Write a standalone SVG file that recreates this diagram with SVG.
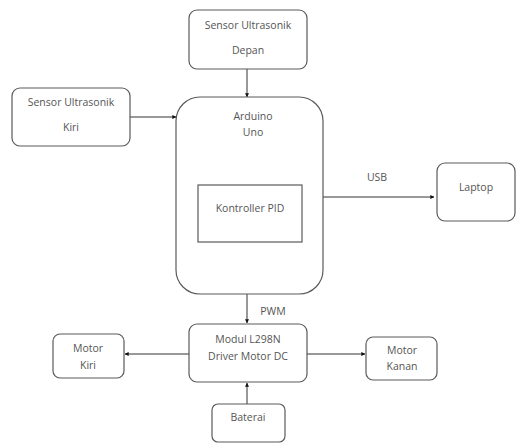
<svg xmlns="http://www.w3.org/2000/svg" width="516" height="443" viewBox="0 0 516 443">
<defs>
<style>
.box{fill:#fff;stroke:#5a5a5a;stroke-width:1.2}
.t{font-family:"Open Sans","Liberation Sans",sans-serif;font-size:10.5px;fill:#555;text-anchor:middle;dominant-baseline:middle}
.c{stroke:#333;stroke-width:1;fill:none;marker-end:url(#a)}
</style>
<marker id="a" viewBox="0 0 6 6" refX="5.5" refY="3" markerWidth="4" markerHeight="4" orient="auto" markerUnits="userSpaceOnUse"><path d="M0,0 L6,3 L0,6 z" fill="#111"/></marker>
</defs>
<rect width="516" height="443" fill="#fff"/>
<g id="connectors">
<path class="c" d="M247,69 V97"/>
<path class="c" d="M130,117 H176"/>
<path class="c" d="M323,197 H434"/>
<path class="c" d="M247,294 V323"/>
<path class="c" d="M189,354 H125"/>
<path class="c" d="M307,354 H365"/>
<path class="c" d="M247,404 V383"/>
<text class="t" x="377" y="178">USB</text>
<text class="t" x="273" y="312">PWM</text>
</g>
<g id="depan"><rect class="box" x="189" y="10" width="118" height="59" rx="8"/><text class="t" x="248" y="26">Sensor Ultrasonik</text><text class="t" x="248" y="51">Depan</text></g>
<g id="kiri"><rect class="box" x="12" y="88" width="118" height="58" rx="8"/><text class="t" x="71" y="103">Sensor Ultrasonik</text><text class="t" x="71" y="128">Kiri</text></g>
<g id="arduino"><rect class="box" x="176" y="97" width="147" height="197" rx="24"/><text class="t" x="253" y="117">Arduino</text><text class="t" x="253" y="133">Uno</text></g>
<g id="pid"><rect class="box" x="198" y="185" width="104" height="57"/><text class="t" x="250" y="209">Kontroller PID</text></g>
<g id="laptop"><rect class="box" x="437" y="163" width="78" height="58" rx="8"/><text class="t" x="476" y="188">Laptop</text></g>
<g id="l298n"><rect class="box" x="189" y="324" width="118" height="58" rx="8"/><text class="t" x="248" y="340">Modul L298N</text><text class="t" x="248" y="357">Driver Motor DC</text></g>
<g id="motorkiri"><rect class="box" x="53" y="334" width="71" height="44" rx="7"/><text class="t" x="88" y="349">Motor</text><text class="t" x="88" y="366">Kiri</text></g>
<g id="motorkanan"><rect class="box" x="366" y="337" width="71" height="43" rx="7"/><text class="t" x="402" y="351">Motor</text><text class="t" x="402" y="367">Kanan</text></g>
<g id="baterai"><rect class="box" x="212" y="404" width="73" height="38" rx="6"/><text class="t" x="248" y="418">Baterai</text></g>
</svg>
